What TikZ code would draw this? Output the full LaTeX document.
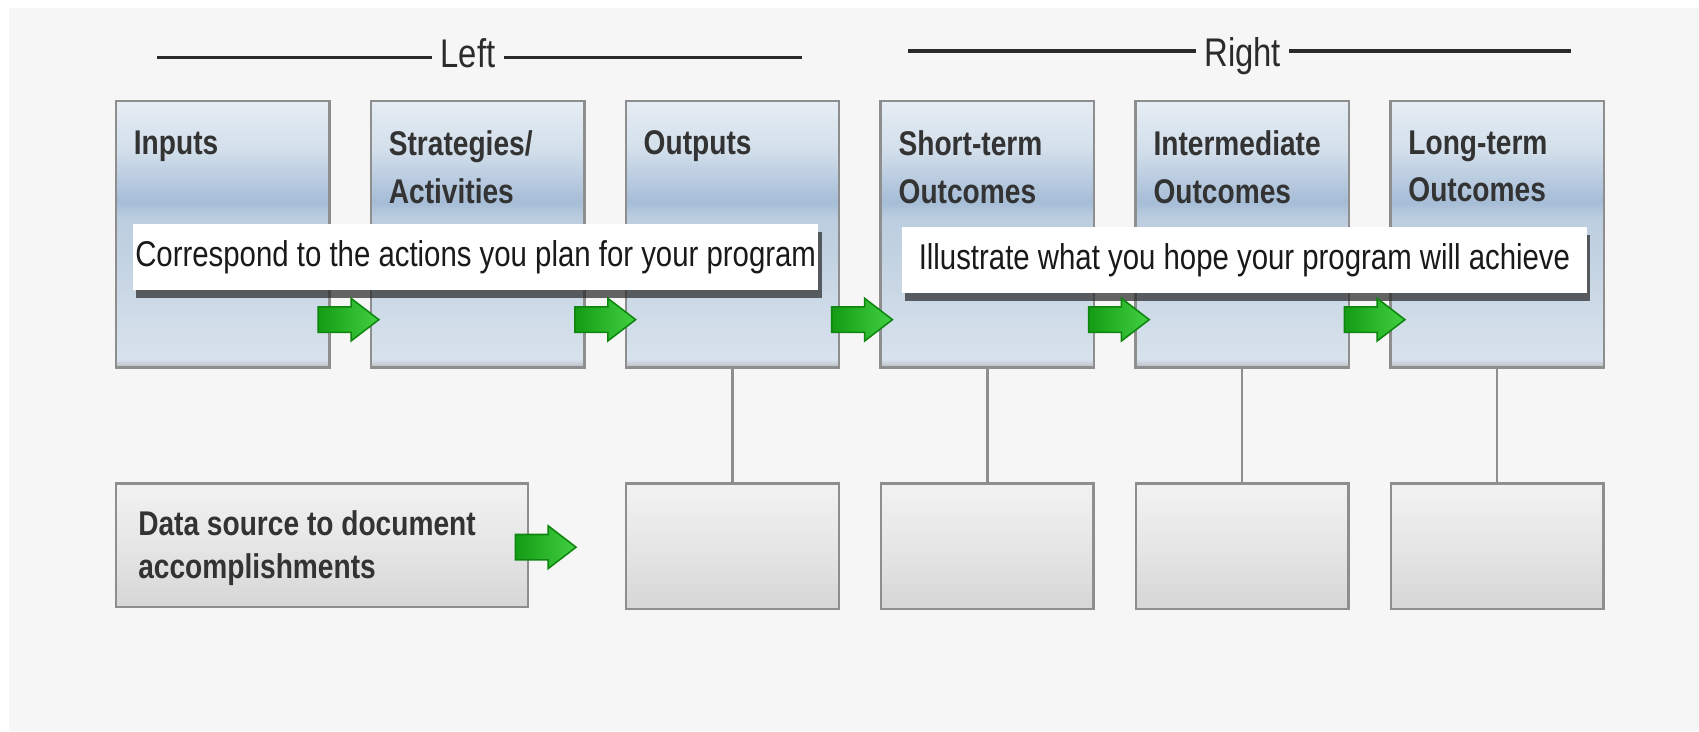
\documentclass[tikz,border=0pt]{standalone}
\usepackage{fontspec}
\setmainfont{Liberation Sans}
\newfontfamily\narrowfont[FakeStretch=0.82]{Liberation Sans}
\usepackage{tikz}
\usetikzlibrary{positioning,shapes.arrows,shadows}

\definecolor{bgray}{HTML}{F6F6F6}
\definecolor{boxline}{HTML}{8E8E8E}
\definecolor{blueA}{HTML}{E6EDF4}
\definecolor{blueB}{HTML}{D3DFEB}
\definecolor{blueC}{HTML}{A6BDD7}
\definecolor{blueD}{HTML}{BCCDDF}
\definecolor{blueE}{HTML}{C9D7E5}
\definecolor{blueF}{HTML}{D8E2EC}
\definecolor{blueG}{HTML}{B7BCC2}
\definecolor{grayA}{HTML}{F2F2F2}
\definecolor{grayB}{HTML}{E6E6E6}
\definecolor{grayC}{HTML}{D6D6D6}
\definecolor{arrowdark}{HTML}{149C14}
\definecolor{arrowlight}{HTML}{42D042}
\definecolor{arrowline}{HTML}{0E850E}
\definecolor{labelgray}{HTML}{333333}
\definecolor{headgray}{HTML}{2B2B2B}

\pgfdeclareverticalshading{boxblue}{100bp}{color(0bp)=(blueG); color(25bp)=(blueG);
  color(26.5bp)=(blueF); color(40bp)=(blueE); color(53bp)=(blueD); color(56bp)=(blueC);
  color(66bp)=(blueB); color(75bp)=(blueA); color(100bp)=(blueA)}
\pgfdeclareverticalshading{boxgray}{100bp}{color(0bp)=(grayC); color(25bp)=(grayC);
  color(50bp)=(grayB); color(75bp)=(grayA); color(100bp)=(grayA)}

\begin{document}
\begin{tikzpicture}
      [x=0.01cm, y=-0.01cm, node distance=0.36cm,
      topbox/.style={rectangle, draw=boxline, line width=0.6pt, shade, shading=boxblue,
        minimum width=1.97cm, minimum height=2.46cm, inner sep=0pt},
      lowbox/.style={rectangle, draw=boxline, line width=0.6pt, shade, shading=boxgray,
        minimum width=1.96cm, minimum height=1.16cm, inner sep=0pt},
      labeltext/.style={anchor=north west, inner sep=0pt, align=left, text=labelgray,
        font=\narrowfont\bfseries\fontsize{9}{12.5}\selectfont},
      boxlabel/.style={labeltext, xshift=0.17cm, yshift=-0.28cm},
      datalabel/.style={labeltext, xshift=0.21cm, yshift=-0.25cm,
        font=\narrowfont\bfseries\fontsize{9}{11.5}\selectfont},
      callout/.style={rectangle, fill=white, minimum width=6.32cm, minimum height=0.61cm,
        inner sep=0pt, text=black!90, font=\narrowfont\fontsize{9.4}{10}\selectfont,
        drop shadow={shadow xshift=0.03cm, shadow yshift=-0.07cm, opacity=0.7, fill=black!85}},
      heading/.style={anchor=base, inner sep=0.07cm, text=headgray,
        font=\narrowfont\fontsize{10.5}{12}\selectfont},
      headline/.style={draw=headgray, line width=0.9pt},
      greenarrow/.style={single arrow, draw=arrowline, line width=0.4pt, left color=arrowdark,
        right color=arrowlight, minimum height=0.56cm, inner xsep=0pt, inner ysep=0.11cm,
        single arrow head extend=0.08cm, single arrow tip angle=75}]

      % frame
      \useasboundingbox (0,0) rectangle (1568,675);
      \fill [white] (0,0) rectangle (1568,675);
      \fill [bgray] (8,7) rectangle (1568,675);

      % headings
      \node [heading] (left) at (432,62) {Left};
      \coordinate (left-a) at (145,53);
      \coordinate (left-b) at (740,53);
      \draw [headline] (left-a) -- (left-a -| left.west);
      \draw [headline] (left.east |- left-b) -- (left-b);
      \node [heading] (right) at (1147,61) {Right};
      \coordinate (right-a) at (838,47);
      \coordinate (right-b) at (1450,47);
      \draw [headline] (right-a) -- (right-a -| right.west);
      \draw [headline] (right.east |- right-b) -- (right-b);

      % top row
      \node [topbox, label={[boxlabel]north west:Inputs}] (inputs) at (205.5,216) {};
      \node [topbox, right=of inputs, label={[boxlabel]north west:{Strategies/\\Activities}}] (strategies) {};
      \node [topbox, right=of strategies, label={[boxlabel]north west:Outputs}] (outputs) {};
      \node [topbox, right=of outputs, label={[boxlabel]north west:{Short-term\\Outcomes}}] (shortterm) {};
      \node [topbox, right=of shortterm, label={[boxlabel]north west:{Intermediate\\Outcomes}}] (intermediate) {};
      \node [topbox, right=of intermediate, label={[boxlabel]north west:{Long-term\\Outcomes}}] (longterm) {};

      % bottom row
      \node [lowbox, minimum width=3.80cm, minimum height=1.14cm,
        below=1.05cm of inputs.south west, anchor=north west,
        label={[datalabel]north west:{Data source to document\\accomplishments}}] (datasource) {};
      \node [lowbox, below=1.05cm of outputs] (outputsdata) {} edge [draw=boxline, line width=0.6pt] (outputs);
      \node [lowbox, below=1.05cm of shortterm] (shorttermdata) {} edge [draw=boxline, line width=0.6pt] (shortterm);
      \node [lowbox, below=1.05cm of intermediate] (intermediatedata) {} edge [draw=boxline, line width=0.6pt] (intermediate);
      \node [lowbox, below=1.05cm of longterm] (longtermdata) {} edge [draw=boxline, line width=0.6pt] (longterm);

      % callouts
      \node [callout] (actions) at (439,237.5) {Correspond to the actions you plan for your program};
      \node [callout] (achieve) at (1148.5,240) {Illustrate what you hope your program will achieve};

      % green arrows
      \node [greenarrow] (arrow1) at (314,295) {};
      \node [greenarrow] (arrow2) at (551,295) {};
      \node [greenarrow] (arrow3) at (788,295) {};
      \node [greenarrow] (arrow4) at (1025,295) {};
      \node [greenarrow] (arrow5) at (1261,295) {};
      \node [greenarrow] (arrow6) at (496,505) {};
    \end{tikzpicture}
\end{document}
